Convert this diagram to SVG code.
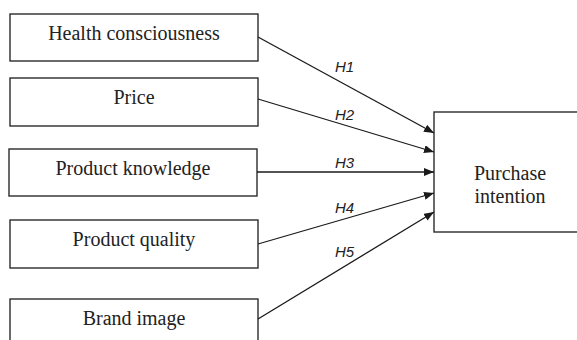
<svg xmlns="http://www.w3.org/2000/svg" width="577" height="340" viewBox="0 0 577 340">
<style>
.box{fill:#fff;stroke:#2b2b2b;stroke-width:1.4}
.t{font-family:"Liberation Serif","Times New Roman",serif;font-size:20px;fill:#222;text-anchor:middle}
.h{font-family:"Liberation Sans",Arial,sans-serif;font-size:15px;font-style:italic;fill:#222}
.c{stroke:#1a1a1a;stroke-width:1.3;fill:none;marker-end:url(#arr)}
</style>
<defs>
<marker id="arr" viewBox="0 0 10 8" refX="10" refY="4" markerWidth="10" markerHeight="8" markerUnits="userSpaceOnUse" orient="auto">
<path d="M0,0 L10,4 L0,8 z" fill="#1a1a1a"/>
</marker>
</defs>
<rect width="577" height="340" fill="#fff"/>
<g id="n1"><rect class="box" x="10" y="14" width="248" height="47"/><text class="t" x="134" y="40">Health consciousness</text></g>
<g id="n2"><rect class="box" x="10" y="78" width="248" height="48"/><text class="t" x="134" y="104">Price</text></g>
<g id="n3"><rect class="box" x="9" y="149" width="248" height="47"/><text class="t" x="133" y="175">Product knowledge</text></g>
<g id="n4"><rect class="box" x="10" y="220" width="248" height="48"/><text class="t" x="134" y="246">Product quality</text></g>
<g id="n5"><rect class="box" x="10" y="299" width="248" height="60"/><text class="t" x="134" y="325">Brand image</text></g>
<g id="n6"><rect class="box" x="434" y="112" width="152" height="120"/><text class="t" x="510" y="180">Purchase</text><text class="t" x="510" y="203">intention</text></g>
<g id="connectors">
<line class="c" x1="258" y1="37" x2="434" y2="133"/>
<line class="c" x1="258" y1="99" x2="434" y2="152"/>
<line class="c" x1="257" y1="172" x2="434" y2="172"/>
<line class="c" x1="258" y1="244" x2="434" y2="193"/>
<line class="c" x1="258" y1="319" x2="434" y2="212"/>
<text class="h" x="335" y="72">H1</text>
<text class="h" x="335" y="120">H2</text>
<text class="h" x="335" y="168">H3</text>
<text class="h" x="335" y="213">H4</text>
<text class="h" x="335" y="257">H5</text>
</g>
</svg>
